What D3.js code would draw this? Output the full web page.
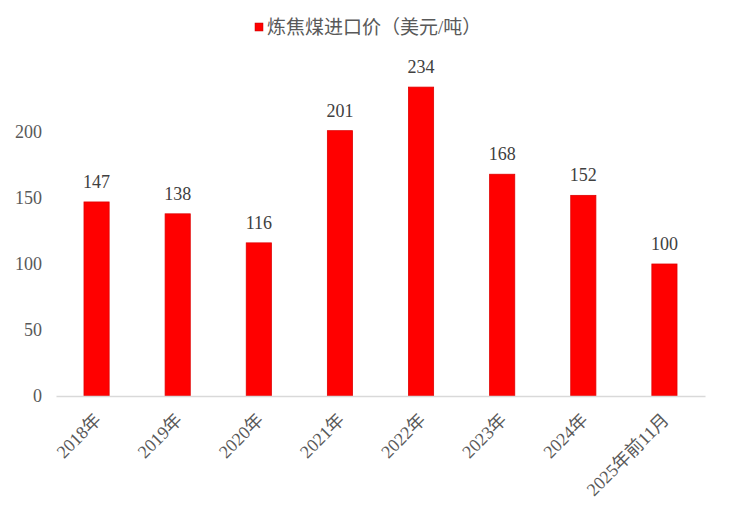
<!DOCTYPE html>
<html>
<head>
<meta charset="utf-8">
<script src="https://d3js.org/d3.v7.min.js"></script>
<style>
  body { margin: 0; background: #fff; }
  svg text { font-family: "Liberation Serif", "Times New Roman", "DejaVu Serif", "Noto Sans CJK SC", serif; fill: #595959; }
</style>
</head>
<body>
<div id="chart"></div>
<script>
// Coking coal import price, USD per tonne
const categories = ["2018年", "2019年", "2020年", "2021年", "2022年", "2023年", "2024年", "2025年前11月"];
const prices = [147, 138, 116, 201, 234, 168, 152, 100];
const yTicks = [0, 50, 100, 150, 200];
const legendLabel = "炼焦煤进口价（美元/吨）";

const width = 730, height = 516;
const margin = { top: 66, right: 25, bottom: 120, left: 56 };
const serif = '"Liberation Serif", "Times New Roman", "DejaVu Serif", "Noto Sans CJK SC", serif';

const svg = d3.select('#chart')
  .append('svg')
  .attr('width', width)
  .attr('height', height);

const x = d3.scaleBand()
  .domain(categories)
  .range([margin.left, width - margin.right])
  .paddingInner(0.69)
  .paddingOuter(0.345);

const y = d3.scaleLinear()
  .domain([0, 250])
  .range([height - margin.bottom, margin.top]);

// Y axis labels only (no line, no ticks)
const yAxis = svg.append('g')
  .attr('transform', `translate(${margin.left},0)`)
  .call(d3.axisLeft(y).tickValues(yTicks).tickSize(0).tickPadding(14));
yAxis.attr('font-family', serif);
yAxis.select('.domain').remove();
yAxis.selectAll('text')
  .style('font-size', '18px')
  .style('fill', '#595959');

// Bars
svg.append('g')
  .selectAll('rect')
  .data(prices)
  .join('rect')
  .attr('x', (d, i) => x(categories[i]))
  .attr('y', d => y(d))
  .attr('width', x.bandwidth())
  .attr('height', d => y(0) - y(d))
  .attr('fill', '#ff0000')
  .attr('stroke', '#e00000')
  .attr('stroke-width', 0.8);

// Value labels
svg.append('g')
  .attr('font-family', serif)
  .selectAll('text')
  .data(prices)
  .join('text')
  .attr('x', (d, i) => x(categories[i]) + x.bandwidth() / 2)
  .attr('y', d => y(d) - 14)
  .attr('text-anchor', 'middle')
  .style('font-size', '18px')
  .style('fill', '#404040')
  .text(d => d);

// X axis baseline
const xAxis = svg.append('g')
  .attr('transform', `translate(0,${y(0)})`)
  .call(d3.axisBottom(x).tickSize(0).tickPadding(0));
xAxis.attr('font-family', serif);
xAxis.select('.domain')
  .attr('stroke', '#d9d9d9')
  .attr('stroke-width', 1.5);
xAxis.selectAll('text')
  .attr('text-anchor', 'end')
  .attr('dy', null)
  .attr('y', 0)
  .attr('transform', `translate(${x.bandwidth() / 2 - 7},25) rotate(-45)`)
  .style('font-size', '18px')
  .style('fill', '#595959');

// Legend
const legend = svg.append('g').attr('transform', 'translate(255,23)');
legend.append('rect')
  .attr('width', 8)
  .attr('height', 8)
  .attr('fill', '#ff0000')
  .attr('stroke', '#c00000')
  .attr('stroke-width', 0.5);
legend.append('text')
  .attr('x', 12)
  .attr('y', 11)
  .style('font-size', '19px')
  .style('fill', '#595959')
  .text(legendLabel);
</script>
</body>
</html>
